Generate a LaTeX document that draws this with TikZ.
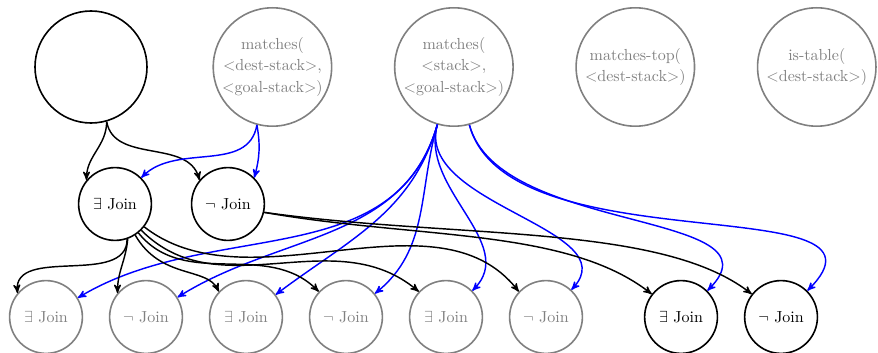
\documentclass[tikz,border=0pt]{standalone}
\usepackage{tikz}
\usetikzlibrary{arrows,positioning}
\usepackage{amsmath}

\begin{document}
\begin{tikzpicture}[>=stealth',x=0.625pt,y=0.625pt,line width=0.9pt]
		\tikzstyle{mem}=[circle,draw,line width=1pt,inner sep=0pt,minimum size=74pt,align=center,font=\fontsize{10pt}{13.5pt}\selectfont]
		\tikzstyle{joinnode}=[circle,draw,line width=1pt,inner sep=0pt,minimum size=45.5pt]
		\tikzstyle{inactive}=[draw=gray,text=gray]
		\useasboundingbox (0,0) rectangle (878,-353);

		% alpha memories
		\node[mem,minimum size=70pt] (root) at (91,-67) {};
		\node[mem,inactive] (m1) [right of=root,node distance=113.4pt] {matches(\\$<$dest-stack$>$,\\$<$goal-stack$>$)};
		\node[mem,inactive] (m2) [right of=m1,node distance=113.4pt] {matches(\\$<$stack$>$,\\$<$goal-stack$>$)};
		\node[mem,inactive] (mtop) [right of=m2,node distance=113.4pt] {matches-top(\\$<$dest-stack$>$)};
		\node[mem,inactive] (table) [right of=mtop,node distance=113.4pt] {is-table(\\$<$dest-stack$>$)};

		% joins
		\node[joinnode] (exists) at (115,-204) {$\exists$ Join};
		\node[joinnode] (neg) [right of=exists,node distance=70.6pt] {$\neg$ Join};

		\node[joinnode,inactive] (g1) at (46,-317) {$\exists$ Join};
		\node[joinnode,inactive] (g2) [right of=g1,node distance=62.5pt] {$\neg$ Join};
		\node[joinnode,inactive] (g3) [right of=g2,node distance=62.5pt] {$\exists$ Join};
		\node[joinnode,inactive] (g4) [right of=g3,node distance=62.5pt] {$\neg$ Join};
		\node[joinnode,inactive] (g5) [right of=g4,node distance=62.5pt] {$\exists$ Join};
		\node[joinnode,inactive] (g6) [right of=g5,node distance=62.5pt] {$\neg$ Join};
		\node[joinnode] (b1) [right of=g6,node distance=84.4pt] {$\exists$ Join};
		\node[joinnode] (b2) [right of=b1,node distance=62.5pt] {$\neg$ Join};

		\path[->]
		(root.-74) edge [out=-90,in=90] (exists.140)
			edge [out=-80,in=105] (neg.140)
		(m1.-105) edge [blue,out=-100,in=45] (exists.north east)
			edge [blue,out=-80,in=75] (neg.north east)
		(m2) edge [blue,out=-106,in=31] (g1)
			edge [blue,out=-106,in=32] (g2)
			edge [blue,out=-106,in=37] (g3)
			edge [blue,out=-106,in=39] (g4)
			edge [blue,out=-106,in=45] (g5)
			edge [blue,out=-106,in=47] (g6)
		(m2) edge [blue,out=-75,in=45] (b1)
			edge [blue,out=-75,in=45] (b2)
		(exists.-71) edge [out=-90,in=95] (g1.140)
		(exists.-70) edge [out=-95,in=90] (g2.140)
		(exists.-57) edge [out=-60,in=115,out looseness=1.3,in looseness=0.7] (g3.137)
		(exists.-51) edge [out=-51,in=135] (g4.137)
		(exists.-45) edge [out=-45,in=140] (g5.137)
		(exists.-38) edge [out=-38,in=128,looseness=0.9] (g6.137)
		(neg.-13) edge [out=-10,in=142,in looseness=0.7] (b1)
			edge [out=-8,in=142,in looseness=0.6] (b2);
	\end{tikzpicture}
\end{document}
